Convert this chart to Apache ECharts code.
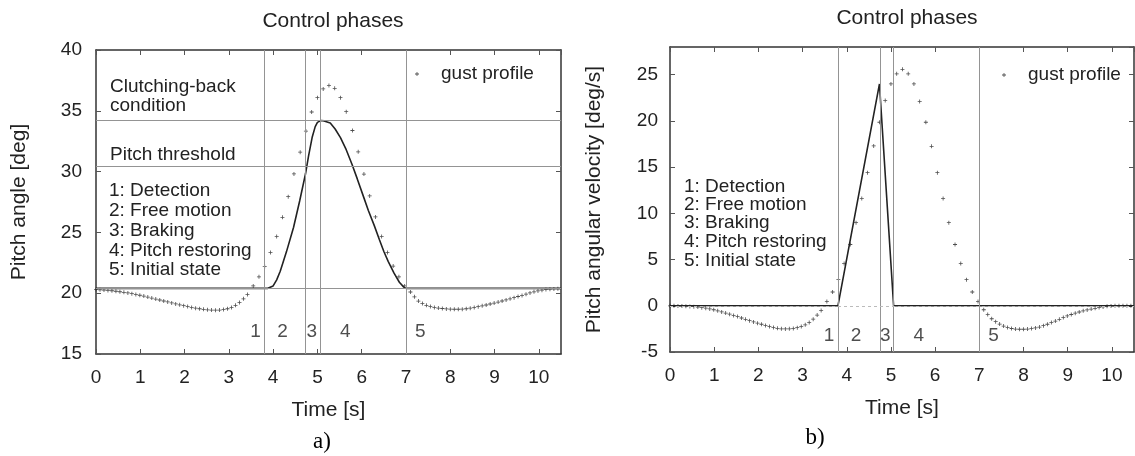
<!DOCTYPE html>
<html>
<head>
<meta charset="utf-8">
<script src="https://cdn.jsdelivr.net/npm/echarts@6/dist/echarts.min.js"></script>
<style>html,body{margin:0;padding:0;background:#fff}#chart{width:1135px;height:456px}</style>
</head>
<body>
<div id="chart"></div>
<script>
// ---------- data ----------
const gustTime = [
  0, 0.09, 0.18, 0.27, 0.36, 0.45, 0.54, 0.63, 0.72, 0.81, 0.9, 0.99, 1.08, 1.17, 1.26, 1.35, 1.44, 1.53, 1.62, 1.71,
  1.8, 1.89, 1.98, 2.07, 2.16, 2.25, 2.34, 2.43, 2.52, 2.61, 2.7, 2.79, 2.88, 2.97, 3.06, 3.15, 3.24, 3.33, 3.42,
  3.55, 3.68, 3.81, 3.94, 4.08, 4.21, 4.34, 4.47, 4.61, 4.74, 4.87, 5.0, 5.13, 5.26, 5.39, 5.52, 5.65, 5.79, 5.92,
  6.05, 6.18, 6.31, 6.45, 6.58, 6.71, 6.84, 6.97,
  7.1, 7.19, 7.28, 7.37, 7.46, 7.55, 7.64, 7.73, 7.82, 7.91, 8.0, 8.09, 8.18, 8.27, 8.36, 8.45, 8.54, 8.63, 8.72,
  8.81, 8.9, 8.99, 9.08, 9.17, 9.26, 9.35, 9.44, 9.53, 9.62, 9.71, 9.8, 9.89, 9.98, 10.07, 10.16, 10.25, 10.34, 10.43
];
const gustPitch = [
  20.30, 20.28, 20.26, 20.23, 20.20, 20.16, 20.12, 20.07, 20.02, 19.96, 19.90, 19.83, 19.76, 19.68, 19.60, 19.52, 19.44, 19.36, 19.28, 19.20,
  19.12, 19.04, 18.97, 18.90, 18.83, 18.77, 18.72, 18.67, 18.63, 18.61, 18.60, 18.61, 18.65, 18.72, 18.83, 19.00, 19.24, 19.54, 19.90,
  20.60, 21.35, 22.20, 23.35, 24.67, 26.24, 27.94, 29.81, 31.60, 33.33, 34.90, 36.08, 36.80, 37.09, 36.85, 36.08, 34.93, 33.38, 31.63,
  29.80, 28.00, 26.27, 24.67, 23.35, 22.23, 21.35, 20.60,
  20.10, 19.70, 19.35, 19.15, 19.00, 18.90, 18.83, 18.78, 18.74, 18.71, 18.69, 18.68, 18.68, 18.69, 18.72, 18.77, 18.82, 18.89, 18.96,
  19.03, 19.11, 19.19, 19.27, 19.36, 19.45, 19.54, 19.63, 19.73, 19.82, 19.92, 20.02, 20.11, 20.19, 20.25, 20.30, 20.33, 20.35, 20.36
];
const gustRate = [
  0.00, 0.00, -0.01, -0.02, -0.04, -0.07, -0.10, -0.14, -0.20, -0.26, -0.34, -0.43, -0.55, -0.66, -0.79, -0.91, -1.04, -1.17, -1.32, -1.46,
  -1.61, -1.75, -1.88, -2.00, -2.13, -2.25, -2.36, -2.44, -2.49, -2.50, -2.49, -2.45, -2.37, -2.25, -2.06, -1.80, -1.45, -1.00, -0.50,
  0.47, 1.49, 2.83, 4.57, 6.63, 8.99, 11.60, 14.40, 17.30, 19.86, 22.20, 24.00, 25.10, 25.58, 25.10, 24.00, 22.10, 19.86, 17.25,
  14.40, 11.60, 8.99, 6.63, 4.57, 2.83, 1.49, 0.47,
  -0.43, -0.95, -1.40, -1.72, -1.98, -2.20, -2.36, -2.46, -2.52, -2.54, -2.54, -2.52, -2.47, -2.40, -2.30, -2.15, -2.00, -1.82, -1.65,
  -1.47, -1.28, -1.10, -0.94, -0.80, -0.67, -0.55, -0.45, -0.36, -0.27, -0.19, -0.12, -0.06, -0.02, 0.00, 0.01, 0.01, 0.01, 0.00
];
const pitchTime = [0, 3.88, 4.0, 4.08, 4.16, 4.3, 4.46, 4.6, 4.73, 4.8, 4.88, 4.95, 5.0, 5.08, 5.15, 5.29, 5.4, 5.52, 5.65, 5.78, 5.9, 6.05, 6.15, 6.28, 6.4, 6.5, 6.6, 6.73, 6.85, 6.95, 7.0, 10.5];
const pitchAngle = [20.4, 20.4, 20.6, 21.1, 21.8, 23.4, 25.4, 27.6, 29.8, 31.3, 32.8, 33.7, 34.05, 34.2, 34.17, 34.0, 33.5, 32.8, 31.8, 30.6, 29.4, 27.84, 26.8, 25.6, 24.4, 23.43, 22.6, 21.65, 20.9, 20.5, 20.4, 20.4];
const rateTime = [0, 3.8, 4.74, 5.06, 10.5];
const rateValue = [0, 0, 24.0, 0, 0];

const phaseBoundsA = [3.8, 4.73, 5.06, 7.0];
const phaseBoundsB = [3.8, 4.76, 5.06, 7.0];
const levelsA = [34.2, 30.4, 20.4];
const phaseNames = ['1', '2', '3', '4', '5'];
const phaseLabelX = [3.6, 4.21, 4.87, 5.63, 7.32];
const phaseLabelYA = 16.85;
const phaseLabelYB = -3.2;

const xTicksMin = 0, xTicksMax = 10.5;
const yA = {min: 15, max: 40, interval: 5};
const yB = {min: -5, max: 28, interval: 5};

const phaseList = ['1: Detection', '2: Free motion', '3: Braking', '4: Pitch restoring', '5: Initial state'];

// ---------- chart ----------
const FONT = 'Liberation Sans';
const TXT = '#222';
const plus = 'path://M2,0L3,0L3,2L5,2L5,3L3,3L3,5L2,5L2,3L0,3L0,2L2,2Z';
const zip = (a, b) => a.map((v, i) => [v, b[i]]);
const boxLine = {onZero: false, lineStyle: {color: '#333', width: 1.5}};
const inTick = {inside: true, length: 5, lineStyle: {color: '#555'}};

function xAxes(g) {
  return [
    {gridIndex: g, type: 'value', min: xTicksMin, max: xTicksMax, interval: 1,
     axisLine: boxLine, axisTick: inTick,
     axisLabel: {showMaxLabel: false, margin: 14, fontSize: 19, fontFamily: FONT, color: TXT},
     splitLine: {show: false},
     name: 'Time [s]', nameLocation: 'middle', nameGap: 46,
     nameTextStyle: {fontSize: 21, fontFamily: FONT, color: TXT}},
    {gridIndex: g, type: 'value', position: 'top', min: xTicksMin, max: xTicksMax, interval: 1,
     axisLine: boxLine, axisTick: inTick,
     axisLabel: {show: false}, splitLine: {show: false}}
  ];
}
function yAxes(g, r, name, gap, margin) {
  return [
    {gridIndex: g, type: 'value', min: r.min, max: r.max, interval: r.interval,
     axisLine: boxLine, axisTick: inTick,
     axisLabel: {showMaxLabel: r.max % r.interval === 0, margin: margin, fontSize: 19, fontFamily: FONT, color: TXT},
     splitLine: {show: false},
     name: name, nameLocation: 'middle', nameGap: gap, nameRotate: 90,
     nameTextStyle: {fontSize: 21, fontFamily: FONT, color: TXT}},
    {gridIndex: g, type: 'value', position: 'right', min: r.min, max: r.max, interval: r.interval,
     axisLine: boxLine, axisTick: inTick,
     axisLabel: {show: false}, splitLine: {show: false}}
  ];
}

const greyLine = {color: '#949494', width: 1, type: 'solid'};
const dotStyle = {color: '#222'};

const series = [
  // panel a
  {type: 'scatter', name: 'phases a', xAxisIndex: 0, yAxisIndex: 0, z: 1, silent: true,
   symbolSize: 0,
   data: phaseNames.map((n, i) => [phaseLabelX[i], phaseLabelYA, n]),
   label: {show: true, position: 'inside', formatter: p => p.value[2], fontSize: 19, fontFamily: FONT, color: TXT},
   markLine: {silent: true, symbol: 'none', label: {show: false}, lineStyle: greyLine,
     data: phaseBoundsA.map(v => ({xAxis: v})).concat(levelsA.map(v => ({yAxis: v})))}},
  {type: 'line', name: 'pitch angle', xAxisIndex: 0, yAxisIndex: 0, z: 3,
   data: zip(pitchTime, pitchAngle), showSymbol: false, symbol: 'none',
   lineStyle: {color: '#222', width: 1.6}},
  {type: 'scatter', name: 'gust profile', xAxisIndex: 0, yAxisIndex: 0, z: 4,
   data: zip(gustTime, gustPitch), symbol: plus, symbolSize: 4,
   itemStyle: dotStyle},
  // panel b
  {type: 'scatter', name: 'phases b', xAxisIndex: 2, yAxisIndex: 2, z: 1, silent: true,
   symbolSize: 0,
   data: phaseNames.map((n, i) => [phaseLabelX[i], phaseLabelYB, n]),
   label: {show: true, position: 'inside', formatter: p => p.value[2], fontSize: 19, fontFamily: FONT, color: TXT},
   markLine: {silent: true, symbol: 'none', label: {show: false}, lineStyle: greyLine,
     data: phaseBoundsB.map(v => ({xAxis: v})).concat([
       {yAxis: 0, lineStyle: {color: '#bbb', width: 1, type: [3, 3]}}])}},
  {type: 'line', name: 'pitch rate', xAxisIndex: 2, yAxisIndex: 2, z: 3,
   data: zip(rateTime, rateValue), showSymbol: false, symbol: 'none',
   lineStyle: {color: '#222', width: 1.6}},
  {type: 'scatter', name: 'gust profile', xAxisIndex: 2, yAxisIndex: 2, z: 4,
   data: zip(gustTime, gustRate), symbol: plus, symbolSize: 4,
   itemStyle: dotStyle}
];

function txt(x, y, s, extra) {
  return Object.assign({type: 'text', x: x, y: y, silent: true,
    style: Object.assign({text: s, fontSize: 19, fontFamily: FONT, fill: TXT, align: 'left', verticalAlign: 'middle'}, extra || {})});
}

const graphics = [
  txt(110, 87, 'Clutching-back'),
  txt(110, 106, 'condition'),
  txt(110, 155, 'Pitch threshold')
];
const listYA = [191, 211, 231, 251, 270];
const listYB = [187, 205, 223, 242, 261];
phaseList.forEach((s, i) => { graphics.push(txt(109, listYA[i], s)); graphics.push(txt(684, listYB[i], s)); });
graphics.push(txt(322, 442, 'a)', {fontFamily: 'Liberation Serif', fontSize: 23, align: 'center', fill: '#000'}));
graphics.push(txt(815, 438, 'b)', {fontFamily: 'Liberation Serif', fontSize: 23, align: 'center', fill: '#000'}));

const legendCommon = {
  data: ['gust profile'], orient: 'horizontal', padding: 0, itemWidth: 4, itemHeight: 4, icon: plus,
  selectedMode: false,
  textStyle: {fontSize: 19, fontFamily: FONT, color: TXT, padding: [0, 0, 0, 17], lineHeight: 20}
};

const option = {
  animation: false,
  backgroundColor: '#fff',
  title: [
    {text: 'Control phases', left: 328, top: 6, textAlign: 'center',
     textStyle: {fontSize: 21, fontWeight: 'normal', fontFamily: FONT, color: TXT}},
    {text: 'Control phases', left: 902, top: 3, textAlign: 'center',
     textStyle: {fontSize: 21, fontWeight: 'normal', fontFamily: FONT, color: TXT}}
  ],
  legend: [
    Object.assign({left: 415, top: 64}, legendCommon),
    Object.assign({left: 1002, top: 65}, legendCommon)
  ],
  grid: [
    {left: 96, top: 50, width: 465, height: 304, containLabel: false},
    {left: 670, top: 47, width: 464, height: 305, containLabel: false}
  ],
  xAxis: xAxes(0).concat(xAxes(1)),
  yAxis: yAxes(0, yA, 'Pitch angle [deg]', 66, 14).concat(yAxes(1, yB, 'Pitch angular velocity [deg/s]', 65, 12)),
  series: series,
  graphic: graphics
};

const chart = echarts.init(document.getElementById('chart'), null, {renderer: 'canvas'});
chart.setOption(option);
</script>
</body>
</html>
